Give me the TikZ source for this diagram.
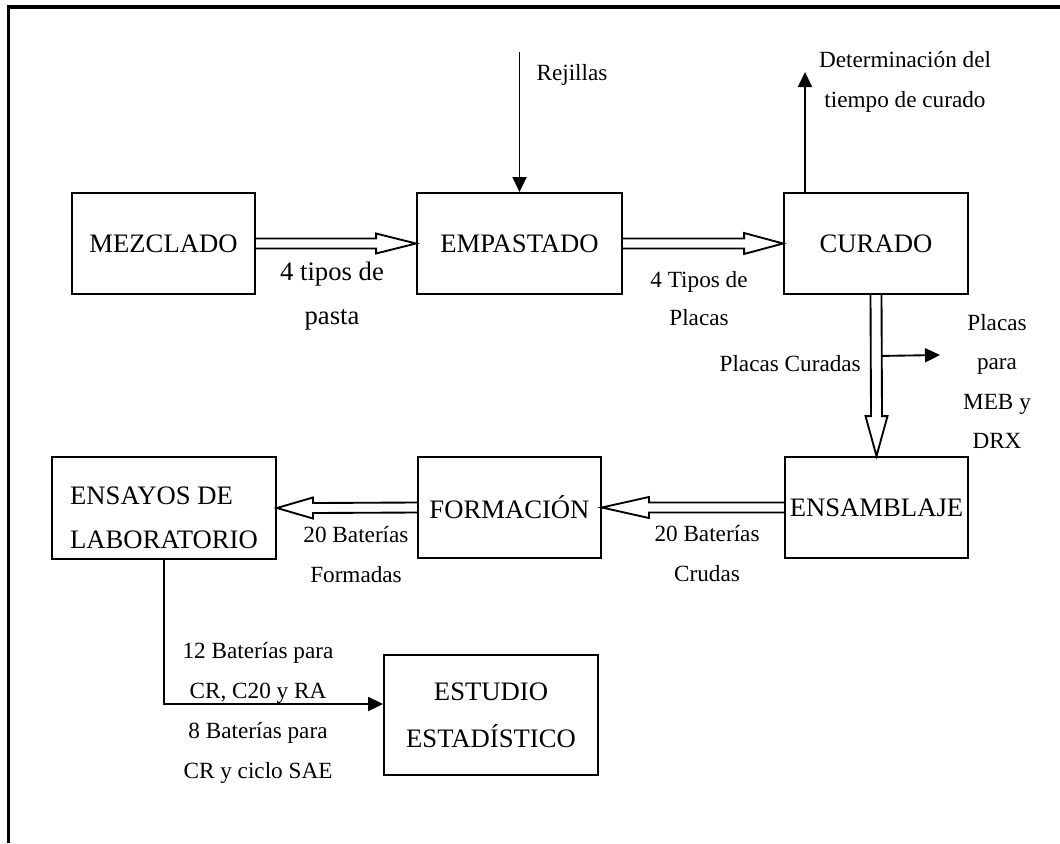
\documentclass[tikz,border=0pt]{standalone}
\usepackage{fontspec}
\setmainfont{Liberation Serif}
\usetikzlibrary{arrows.meta,calc}
\begin{document}
\begin{tikzpicture}[x=0.75pt,y=-0.75pt,
  box/.style={draw,line width=1.4pt,inner sep=0pt,align=center,font=\fontsize{20}{30}\selectfont},
  lbl/.style={inner sep=0pt,align=center,font=\fontsize{17.4}{30}\selectfont},
  hollow/.style={draw,line width=1.4pt,line join=miter},
  conn/.style={line width=1.4pt,-{Triangle[length=11.25pt,width=10.5pt]}}]
\useasboundingbox (0,0) rectangle (1060,843);
\draw[line width=2.6pt,line join=miter] (1060,7) -- (8.5,7) -- (8.5,843);

% boxes
\node[box,minimum width=137.25pt,minimum height=75.75pt] (mez) at (163.5,243.5) {MEZCLADO};
\node[box,minimum width=153.75pt,minimum height=75.75pt] (emp) at (519.5,243.5) {EMPASTADO};
\node[box,minimum width=138pt,minimum height=75.75pt] (cur) at (876,243.5) {CURADO};
\node[box,minimum width=168pt,minimum height=76.5pt,font=\fontsize{20}{33}\selectfont] (ens) at (164,508) {\raisebox{-12.5pt}[0pt][0pt]{\begin{tabular}{@{}l@{}}ENSAYOS DE\\LABORATORIO\end{tabular}}};
\node[box,minimum width=137.25pt,minimum height=75.75pt] (for) at (509.5,507.5) {FORMACIÓN};
\node[box,minimum width=137.25pt,minimum height=75.75pt] (ensam) at (876.5,507.5) {ENSAMBLAJE};
\node[box,minimum width=160.5pt,minimum height=90pt,font=\fontsize{20}{35}\selectfont] (est) at (491,715) {ESTUDIO\\ESTADÍSTICO};

% hollow arrows
\draw[hollow] ($(mez.east)+(0,-5)$) -- ($(emp.west)+(-40,-5)$) -- ++(0,-5) -- (emp.west)
  -- ($(emp.west)+(-40,10)$) -- ++(0,-5) -- ($(mez.east)+(0,5)$);
\draw[hollow] ($(emp.east)+(0,-5)$) -- ($(cur.west)+(-39,-5)$) -- ++(0,-5.5) -- (cur.west)
  -- ($(cur.west)+(-39,10.5)$) -- ++(0,-5.5) -- ($(emp.east)+(0,5)$);
\draw[hollow] ($(cur.south)+(-5.5,0)$) -- ($(ensam.north)+(-5.5,-40)$) -- ++(-5.5,0) -- (ensam.north)
  -- ($(ensam.north)+(11,-40)$) -- ++(-5.5,0) -- ($(cur.south)+(5.5,0)$);
\draw[hollow] ($(ensam.west)+(0,-5)$) -- ($(for.east)+(47,-5)$) -- ++(0,-5.5) -- (for.east)
  -- ($(for.east)+(47,10.5)$) -- ++(0,-5.5) -- ($(ensam.west)+(0,5)$);
\draw[hollow] ($(for.west)+(0,-5)$) -- ($(ens.east)+(36,-5)$) -- ++(0,-5.5) -- (ens.east)
  -- ($(ens.east)+(36,10.5)$) -- ++(0,-5.5) -- ($(for.west)+(0,5)$);

% simple connectors
\coordinate (rej) at (519.5,52);
\draw[conn] (rej) -- (emp.north);
\coordinate (det) at (805,72);
\draw[conn] (cur.north -| det) -- (det);
\coordinate (meb) at (940,355);
\draw[conn] ($(cur.south)+(5.5,61)$) -- (meb);
\draw[conn] (ens.south) |- ($(est.west)+(0,-11)$);

% labels
\node[inner sep=0pt,align=center,font=\fontsize{20}{33}\selectfont] (l1) at (332,296) {4 tipos de\\pasta};
\node[lbl,font=\fontsize{17.4}{28.5}\selectfont] (l2) at (699,299) {4 Tipos de\\Placas};
\node[lbl] (l3) at (572,75) {Rejillas};
\node[lbl] (l4) at (905,82) {Determinación del\\tiempo de curado};
\node[lbl,anchor=east] (l5) at (861,364) {Placas Curadas};
\node[lbl,font=\fontsize{17.4}{29.5}\selectfont] (l6) at (997,381.5) {Placas\\para\\MEB y\\DRX};
\node[lbl] (l7) at (356,555) {20 Baterías\\Formadas};
\node[lbl] (l8) at (707,553.5) {20 Baterías\\Crudas};
\node[lbl] (l9) at (258,712.5) {12 Baterías para\\CR, C20 y RA\\8 Baterías para\\CR y ciclo SAE};
\end{tikzpicture}
\end{document}
